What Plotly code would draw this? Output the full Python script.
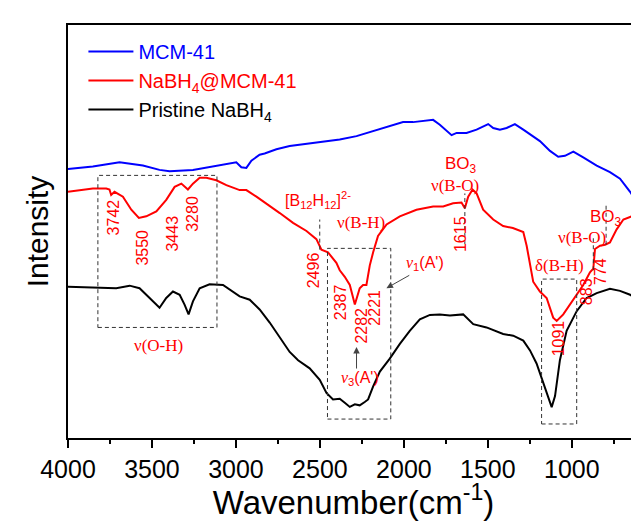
import plotly.graph_objects as go

# ---------------- data ----------------
mcm_wn = [4000, 3852, 3693, 3554, 3455, 3395, 3256, 3157, 3057, 2998, 2968, 2938, 2908, 2859, 2829,
          2759, 2680, 2580, 2481, 2382, 2282, 2183, 2084, 2005, 1945, 1865, 1826, 1786, 1746, 1716,
          1686, 1627, 1567, 1498, 1468, 1428, 1388, 1339, 1289, 1249, 1190, 1130, 1081, 1041, 991,
          932, 852, 773, 713, 653, 605]
mcm_int = [280.3, 282.7, 287, 283.7, 279.3, 278, 279.3, 282, 284.7, 287, 282, 281.3, 288.7, 294.7, 296,
           300.3, 303.7, 306, 308.7, 310.3, 313.7, 318.7, 323.7, 328, 328, 329.3, 330.3, 325.3, 318.7, 314.7,
           317, 317, 320.3, 326, 322, 320.3, 322, 326, 320.3, 315.3, 308.7, 298.7, 292.7, 293.7, 298,
           292, 283.7, 277, 270.3, 257, 244]

comp_wn = [4000, 3852, 3772, 3753, 3743, 3723, 3673, 3623, 3578, 3534, 3474, 3415, 3365, 3325, 3286,
           3256, 3216, 3176, 3117, 3057, 2978, 2938, 2878, 2819, 2739, 2660, 2580, 2521, 2491, 2452,
           2402, 2382, 2352, 2322, 2292, 2263, 2243, 2223, 2203, 2183, 2154, 2103, 2024, 1925, 1826,
           1766, 1707, 1657, 1637, 1617, 1591, 1567, 1528, 1468, 1409, 1351, 1289, 1269, 1249, 1230,
           1190, 1150, 1111, 1090, 1051, 1011, 971, 932, 892, 872, 862, 832, 802, 773, 733,
           693, 643, 605]
comp_int = [257, 260.3, 260.3, 259.3, 253.7, 257, 252, 238.7, 230.3, 232, 237, 248.7, 262, 265.3, 259.3,
            265.3, 271.3, 271.3, 268.7, 263.7, 258.7, 258.7, 252, 245.3, 235.3, 225.3, 217, 208.7, 198, 195.3,
            184.5, 177, 170.3, 162, 142, 158.7, 162, 162, 182, 195.3, 212, 223.7, 232, 238.7, 242,
            242, 245.3, 246, 240.3, 252, 259.3, 255.3, 238.7, 228.7, 222, 220, 216, 202, 182, 165.3,
            155.3, 148.7, 128.7, 125.3, 132, 142, 152, 162, 175, 178.7, 198.7, 202, 203, 205.3, 218.7,
            228.7, 232, 231]

nabh4_wn = [4000, 3852, 3713, 3633, 3574, 3514, 3455, 3415, 3375, 3335, 3306, 3282, 3256, 3216, 3157,
            3077, 3018, 2978, 2918, 2859, 2799, 2739, 2680, 2630, 2561, 2501, 2461, 2422, 2382, 2352,
            2322, 2292, 2263, 2233, 2213, 2183, 2143, 2084, 2024, 1965, 1905, 1845, 1786, 1726, 1686,
            1647, 1587, 1508, 1409, 1349, 1289, 1249, 1210, 1170, 1140, 1120, 1100, 1071, 1031, 971,
            912, 852, 773, 713, 653, 600]
nabh4_int = [160.3, 159.3, 158.7, 161.3, 158.7, 148.7, 138.7, 148.7, 155.3, 152, 142, 132, 145.3, 158.7, 162.7,
             162, 155.3, 150.3, 147, 137, 123.7, 108.7, 93.7, 85.3, 77, 65.3, 52, 45.3, 46, 42,
             37.7, 40.3, 39.3, 42.7, 45.3, 58.7, 73.7, 87, 102, 115.3, 127, 131.5, 132, 131, 131.3,
             132, 122, 118.7, 112, 110.3, 105.3, 95.3, 82, 62, 45.3, 37.5, 48.7, 85.3, 115.3, 135.3,
             148.7, 153.7, 158, 156, 152, 147]

series_names = ["MCM-41", "NaBH<sub>4</sub>@MCM-41", "Pristine NaBH<sub>4</sub>"]
peak_labels = ["3742", "3550", "3443", "3280", "2496", "2387", "2282", "2221", "1615", "1091", "883", "774"]
x_tick_vals = [4000, 3500, 3000, 2500, 2000, 1500, 1000]

# ---------------- styling / layout ----------------
SANS = "Arial, Liberation Sans, sans-serif"
SERIF = "Times New Roman, Liberation Serif, serif"
RED = "#ff0000"
BLUE = "#0000ff"
colors = [BLUE, RED, "#000000"]

fig = go.Figure()
for wn, val, name, col in zip([mcm_wn, comp_wn, nabh4_wn], [mcm_int, comp_int, nabh4_int], series_names, colors):
    fig.add_trace(go.Scatter(x=wn, y=val, mode="lines", line=dict(color=col, width=2),
                             name=f"<span style='color:{col}'>{name}</span>"))

# rotated peak labels (position of each label: wavenumber, intensity)
label_pos = [(3727, 230.7), (3558, 200.3), (3379, 214.7), (3256, 234.5), (2541, 177), (2378, 144.8),
             (2253, 121), (2173, 138.7), (1667, 213.7), (1081, 107.8), (912, 155.3), (826, 175.3)]
annotations = []
for txt, (ax_, ay_) in zip(peak_labels, label_pos):
    annotations.append(dict(x=ax_, y=ay_, xref="x", yref="y", text=txt, textangle=-90, showarrow=False,
                            font=dict(family=SANS, size=16, color=RED)))

nu_i = "<span style='font-family:Times New Roman, Liberation Serif, serif'><i>ν</i></span>"
text_labels = [
    ("ν(O-H)", 3461, 100, SERIF, 17),
    ("[B<sub>12</sub>H<sub>12</sub>]<sup>2-</sup>", 2513, 249, SANS, 16),
    ("ν(B-H)", 2253, 225.3, SERIF, 17),
    ("BO<sub>3</sub>", 1661, 284, SANS, 17),
    ("ν(B-O)", 1695, 263.5, SERIF, 17),
    (nu_i + "<sub>1</sub>(A')", 1875, 183.7, SANS, 16),
    (nu_i + "<sub>3</sub>(A')", 2263, 67, SANS, 16),
    ("BO<sub>3</sub>", 796, 230, SANS, 17),
    ("ν(B-O)", 941, 210.3, SERIF, 17),
    ("δ(B-H)", 1071, 182, SERIF, 17),
]
for txt, ax_, ay_, fam, sz in text_labels:
    annotations.append(dict(x=ax_, y=ay_, xref="x", yref="y", text=txt, showarrow=False,
                            font=dict(family=fam, size=sz, color=RED)))

# arrows
for tip, tail in [((2104, 158.7), (1959, 172.7)), ((2282, 98.7), (2282, 75.3))]:
    annotations.append(dict(x=tip[0], y=tip[1], ax=tail[0], ay=tail[1], xref="x", yref="y",
                            axref="x", ayref="y", text="", showarrow=True, arrowhead=2,
                            arrowsize=1.3, arrowwidth=1, arrowcolor="#444444", standoff=0))

DASH = "4px,3px"
shapes = []
for x0, x1, y0, y1 in [(3822, 3113, 118.7, 273.7), (2455, 2078, 25.3, 199.3), (1180, 971, 20.3, 168)]:
    shapes.append(dict(type="rect", xref="x", yref="y", x0=x0, x1=x1, y0=y0, y1=y1,
                       line=dict(color="#333333", width=1, dash=DASH)))
for xv, y0, y1 in [(2501, 198, 228.7), (1637, 203.7, 255.3), (872, 177, 212), (796, 203, 243)]:
    shapes.append(dict(type="line", xref="x", yref="y", x0=xv, x1=xv, y0=y0, y1=y1,
                       line=dict(color="#333333", width=1, dash=DASH)))
# right frame line
shapes.append(dict(type="line", xref="x", yref="paper", x0=625, x1=625, y0=0, y1=1,
                   line=dict(color="#000000", width=1.5)))

# the page body has an 8px default margin, so the figure is sized/offset for it
fig.update_layout(
    width=631, height=513,
    margin=dict(l=60, r=0, t=17, b=67),
    paper_bgcolor="white", plot_bgcolor="white",
    font=dict(family=SANS, color="black"),
    showlegend=True,
    legend=dict(x=0.027, y=0.983, xanchor="left", yanchor="top", bgcolor="rgba(0,0,0,0)",
                font=dict(family=SANS, size=20), itemwidth=45, tracegroupgap=0),
    annotations=annotations,
    shapes=shapes,
    xaxis=dict(range=[4000, 600], tickvals=x_tick_vals, ticks="outside", ticklen=8, tickwidth=2,
               tickcolor="black", showline=True, linewidth=2, linecolor="black", mirror=True,
               showgrid=False, zeroline=False, tickfont=dict(family=SANS, size=25),
               minor=dict(dtick=250, tick0=0, ticks="outside", ticklen=4, tickwidth=2, tickcolor="black",
                          showgrid=False),
               title=dict(text="Wavenumber(cm<sup>-1</sup>)", font=dict(family=SANS, size=33), standoff=15)),
    yaxis=dict(range=[6, 427], showticklabels=False, ticks="", showline=True, linewidth=2,
               linecolor="black", showgrid=False, zeroline=False,
               title=dict(text="Intensity", font=dict(family=SANS, size=30), standoff=9)),
)

fig.write_html("out.html")
